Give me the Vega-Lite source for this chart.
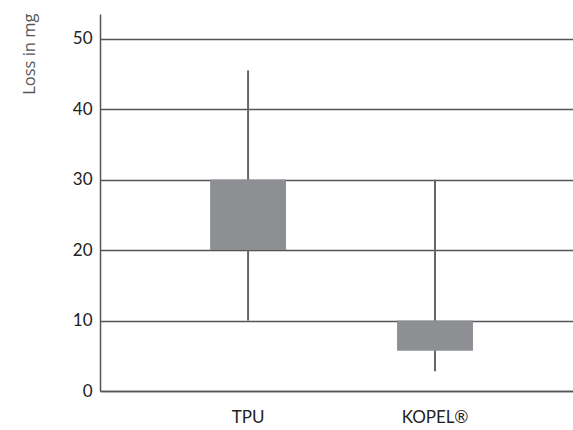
{
  "$schema": "https://vega.github.io/schema/vega-lite/v6.json",
  "width": 473,
  "height": 377,
  "autosize": "none",
  "padding": {"left": 100, "top": 14, "right": 0, "bottom": 39},
  "background": "white",
  "config": {
    "view": {"stroke": null},
    "font": "Lato",
    "axis": {"labelFont": "Lato", "titleFont": "Open Sans"}
  },
  "data": {
    "values": [
      {"material": "TPU", "low": 10, "q1": 20, "q3": 30, "high": 45.5},
      {"material": "KOPEL®", "low": 2.8, "q1": 5.7, "q3": 10, "high": 30}
    ]
  },
  "encoding": {
    "x": {
      "field": "material",
      "type": "nominal",
      "sort": null,
      "scale": {"paddingInner": 0.594, "paddingOuter": 0.562, "align": 0.524},
      "axis": {
        "title": null,
        "labelAngle": 0,
        "ticks": false,
        "labelPadding": 18,
        "labelFontSize": 17,
        "labelColor": "#222222",
        "domainColor": "#555555",
        "domainWidth": 1.5,
        "grid": false
      }
    }
  },
  "layer": [
    {
      "mark": {"type": "rule", "color": "#666666", "strokeWidth": 2},
      "encoding": {
        "y": {
          "field": "low",
          "type": "quantitative",
          "scale": {"domain": [0, 53.5], "nice": false},
          "axis": {
            "title": "Loss in mg",
            "titleAngle": -90,
            "titleX": -71,
            "titleY": -1,
            "titleAlign": "right",
            "titleBaseline": "middle",
            "titleFontSize": 16.5,
            "titleFontWeight": "normal",
            "titleColor": "#555555",
            "values": [0, 10, 20, 30, 40, 50],
            "ticks": false,
            "labelPadding": 8,
            "labelFontSize": 17,
            "labelColor": "#222222",
            "domainColor": "#555555",
            "domainWidth": 1.5,
            "grid": true,
            "gridColor": "#555555",
            "gridWidth": 1.5,
            "gridOpacity": 1
          }
        },
        "y2": {"field": "high"}
      }
    },
    {
      "mark": {"type": "bar", "color": "#8e8f93"},
      "encoding": {
        "y": {"field": "q1", "type": "quantitative"},
        "y2": {"field": "q3"}
      }
    }
  ]
}
